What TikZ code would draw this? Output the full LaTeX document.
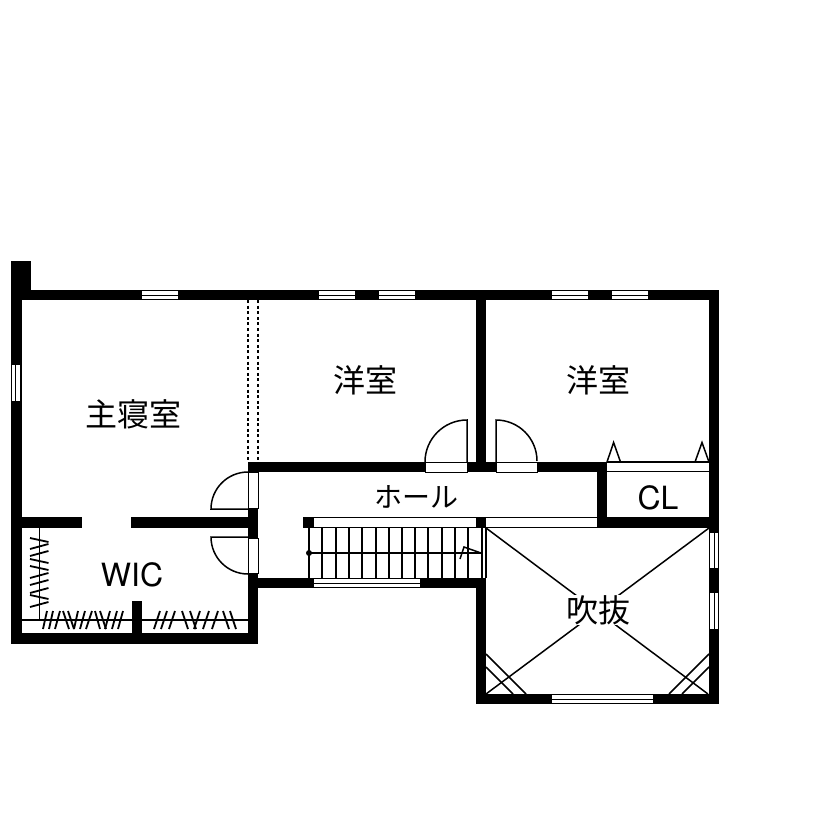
\documentclass[tikz,border=0pt]{standalone}
\usepackage{fontspec}
\setsansfont{TeX Gyre Heros}
\newfontfamily\jpfont{Noto Sans CJK JP}
\tikzset{
  wall/.style={fill=black,draw=none},
  thinline/.style={line width=1.5pt},
  hanger/.style={line width=1.8pt},
  roomlabel/.style={font=\jpfont\fontsize{32}{32}\selectfont,inner sep=1pt},
  latinlabel/.style={font=\sffamily\fontsize{32}{32}\selectfont,inner sep=1pt}
}
\newcommand{\hwindow}[3]{%
  \fill[white] (#1,#3+1) rectangle (#2,#3+9);
  \draw[line width=1pt] (#1,#3+5) -- (#2,#3+5);
}
\newcommand{\vwindow}[3]{%
  \fill[white] (#1+1,#2) rectangle (#1+9,#3);
  \draw[line width=1pt] (#1+5,#2) -- (#1+5,#3);
}
\begin{document}
\begin{tikzpicture}[x=1pt,y=-1pt]
  \useasboundingbox[fill=white] (0,0) rectangle (840,840);

  % closet lines
  \draw[thinline] (21,620) -- (248,620);
  \draw[thinline] (39.5,528) -- (39.5,620);
  \foreach \a/\b in {538/542,549/544,556/551,559/563,566/570,578/573,585/580,593/588,595/599,607/602}
    \draw[hanger] (30,\a) -- (48.5,\b);
  \foreach \a/\b in {47/43,53/49,60/55,63/69,68/74,78/74,85/80,92/86,95/100,100/106,110/105,117/112,123/118}
    \draw[hanger] (\a,611) -- (\b,629);
  \foreach \a/\b in {160/154,167/161,175/169,182/188,190/196,200/194,209/203,218/212,223/229,230/236}
    \draw[hanger] (\a,611) -- (\b,629);

  % stairs
  \foreach \x in {322,336,349,362,376,389,402,415,428,442,455,468,482}
    \draw[thinline] (\x,528) -- (\x,578);
  \draw[line width=2pt] (309,528) -- (309,578);
  \draw[thinline] (486,528) -- (486,578);
  \draw[thinline] (309,553) -- (481,553);
  \fill (309,553) circle[radius=3];
  \draw[thinline] (460,559) -- (464,547) -- (481,553);
  \draw[thinline] (314,517.5) -- (597,517.5);
  \draw[thinline] (314,527.5) -- (597,527.5);

  % walls
  \fill[wall] (10.5,261) rectangle (31,300);
  \fill[wall] (10.5,289.5) rectangle (719,300);
  \fill[wall] (10.5,289.5) rectangle (21.5,644);
  \fill[wall] (10.5,633) rectangle (258,644);
  \fill[wall] (21,517) rectangle (82,528);
  \fill[wall] (131,517) rectangle (248,528);
  \fill[wall] (132,601) rectangle (142,633);
  \fill[wall] (248,508) rectangle (258,538);
  \fill[wall] (248,573) rectangle (258,644);
  \fill[wall] (248,578) rectangle (486,588);
  \fill[wall] (248,462) rectangle (425,472);
  \fill[wall] (467,462) rectangle (496,472);
  \fill[wall] (537,462) rectangle (607,472);
  \fill[wall] (476,290) rectangle (486,472);
  \fill[wall] (597,462) rectangle (607,528);
  \fill[wall] (597,517) rectangle (719,528);
  \fill[wall] (709,290) rectangle (719,704);
  \fill[wall] (476,578) rectangle (486,704);
  \fill[wall] (476,694) rectangle (719,704);
  \fill[wall] (303,517) rectangle (314,528);
  \fill[wall] (476,517) rectangle (486,528);

  % windows
  \hwindow{142}{178}{290}
  \hwindow{319}{355}{290}
  \hwindow{379}{415}{290}
  \hwindow{552}{588}{290}
  \hwindow{612}{648}{290}
  \hwindow{314}{420}{578}
  \hwindow{552}{653}{694}
  \vwindow{10.5}{365}{401}
  \vwindow{709}{533}{568}
  \vwindow{709}{593}{629}

  % sliding partition
  \draw[line width=1.5pt,dash pattern=on 3pt off 2.6pt] (248,300) -- (248,462);
  \draw[line width=1.5pt,dash pattern=on 3pt off 2.6pt] (258,300) -- (258,462);

  % doors
  \draw[line width=1pt] (425,462) rectangle (467,472);
  \draw[line width=1pt] (496,462) rectangle (537,472);
  \draw[thinline] (467,462) -- (467,420) arc[start angle=-90,end angle=-180,radius=42];
  \draw[thinline] (496,462) -- (496,420) arc[start angle=-90,end angle=0,radius=41];
  \draw[line width=1pt] (248,472) rectangle (258,508);
  \draw[line width=1pt] (248,538) rectangle (258,573);
  \draw[thinline] (248,509) -- (211,509) arc[start angle=180,end angle=270,radius=37];
  \draw[thinline] (248,537) -- (211,537) arc[start angle=180,end angle=90,radius=37];

  % closet shelf
  \draw[thinline] (607,462) -- (709,462);
  \draw[thinline] (607,471.5) -- (709,471.5);
  \draw[thinline] (607,462) -- (613.6,442.5) -- (620.5,462);
  \draw[thinline] (695,462) -- (702,442.5) -- (709,462);

  % void
  \draw[thinline] (486,528) -- (708,694);
  \draw[thinline] (709,528) -- (486,694);
  \draw[thinline] (486,654) -- (526,694);
  \draw[thinline] (486,667) -- (513,694);
  \draw[thinline] (709,654) -- (669,694);
  \draw[thinline] (709,667) -- (682,694);

  % labels
  \node[roomlabel] (master) at (133,414) {主寝室};
  \node[roomlabel] (west1) at (365,380) {洋室};
  \node[roomlabel] (west2) at (598,380) {洋室};
  \node[roomlabel,font=\jpfont\fontsize{28}{28}\selectfont] (hall) at (416,497) {ホール};
  \node[latinlabel] (wic) at (132,575) {WIC};
  \node[latinlabel] (cl) at (658,498) {CL};
  \node[roomlabel,fill=white,inner xsep=4pt,inner ysep=0pt] (void) at (598,610) {吹抜};
\end{tikzpicture}
\end{document}
